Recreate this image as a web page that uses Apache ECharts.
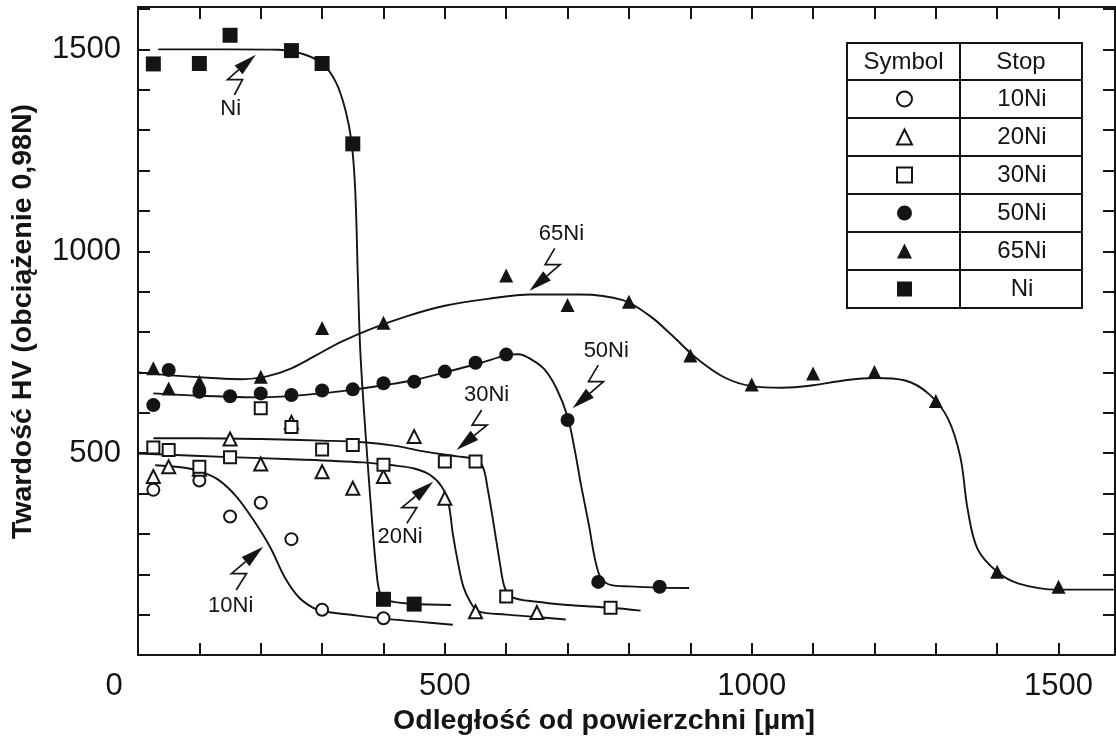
<!DOCTYPE html>
<html>
<head>
<meta charset="utf-8">
<script src="https://cdn.jsdelivr.net/npm/echarts@6/dist/echarts.min.js"></script>
<style>
html,body{margin:0;padding:0;background:#fff;}
#c{width:1116px;height:742px;}
</style>
</head>
<body>
<div id="c"></div>
<script>
// ---------- data ----------
const seriesNames = ['10Ni', '20Ni', '30Ni', '50Ni', '65Ni', 'Ni'];
const xTickLabels = [0, 500, 1000, 1500];
const yTickLabels = [500, 1000, 1500];

// measured points [distance µm, HV]
const pts10Ni = [[25,409],[100,432],[150,343],[200,377],[250,287],[300,112],[400,91]];
const pts20Ni = [[25,442],[50,466],[100,460],[150,535],[200,473],[250,576],[300,454],[350,413],[400,442],[450,541],[500,388],[550,107],[650,105]];
const pts30Ni = [[25,514],[50,508],[100,466],[150,490],[200,611],[250,565],[300,509],[350,520],[400,471],[500,479],[550,479],[600,145],[770,117]];
const pts50Ni = [[25,619],[50,706],[100,652],[150,641],[200,648],[250,644],[300,655],[350,658],[400,673],[450,677],[500,702],[550,724],[600,744],[700,582],[750,181],[850,169]];
const pts65Ni = [[25,710],[50,660],[100,677],[200,689],[300,810],[400,823],[600,940],[700,867],[800,875],[900,742],[1000,670],[1100,697],[1200,701],[1300,629],[1400,206],[1500,169]];
const ptsNi   = [[25,1464],[100,1465],[150,1535],[250,1497],[300,1465],[350,1266],[400,138],[450,126]];

// fitted curves
const curve10Ni = [[28,470],[70,465],[101,455],[130,435],[160,393],[190,330],[215,268],[240,190],[262,143],[284,118],[300,109],[350,99],[400,90],[460,82],[513,75]];
const curve20Ni = [[0,499],[150,490],[250,485],[367,477],[420,469],[450,462],[476,446],[495,417],[506,375],[513,300],[521,232],[530,170],[542,130],[555,108],[600,100],[650,94],[697,88]];
const curve30Ni = [[25,537],[100,537],[200,535],[300,531],[367,527],[420,518],[470,503],[520,492],[550,484],[562,466],[570,410],[580,320],[590,225],[598,165],[610,143],[650,132],[700,124],[770,117],[819,110]];
const curve50Ni = [[25,648],[100,642],[200,638],[300,648],[350,657],[400,668],[450,681],[500,700],[555,722],[600,742],[620,745],[640,733],[662,708],[682,660],[700,590],[712,505],[722,420],[735,320],[745,235],[755,189],[772,173],[800,170],[851,167],[898,166]];
const curve65Ni = [[0,700],[60,692],[120,686],[170,683],[210,690],[250,710],[290,742],[330,775],[380,808],[440,840],[500,865],[570,882],[640,893],[720,893],[790,879],[834,840],[870,792],[910,735],[955,688],[1000,666],[1050,662],[1100,668],[1150,680],[1200,686],[1250,680],[1290,645],[1320,585],[1340,490],[1352,360],[1368,263],[1400,206],[1435,177],[1498,162],[1590,162]];
const curveNi   = [[33,1500],[150,1500],[230,1499],[270,1488],[300,1465],[322,1420],[338,1350],[348,1270],[354,1150],[358,950],[362,760],[368,610],[375,460],[382,320],[388,215],[394,155],[405,136],[446,127],[510,124]];

// annotation labels: text anchor, arrow start, arrow tip (data coordinates)
const annotationLabels = ['Ni', '10Ni', '20Ni', '30Ni', '65Ni', '50Ni'];
const annotationText  = [[151,1352],[151,121],[427,293],[568,644],[690,1043],[763,752]];
const annotationFrom  = [[157,1387],[160,161],[438,326],[560,607],[679,1007],[750,718]];
const annotationTo    = [[192,1487],[204,268],[481,429],[519,508],[638,902],[708,611]];

// ---------- chart ----------
const FONT = "'Liberation Sans', Arial, Helvetica, sans-serif";
const INK = '#141414';

const pointsBy = {'10Ni':pts10Ni,'20Ni':pts20Ni,'30Ni':pts30Ni,'50Ni':pts50Ni,'65Ni':pts65Ni,'Ni':ptsNi};
const curvesBy = {'10Ni':curve10Ni,'20Ni':curve20Ni,'30Ni':curve30Ni,'50Ni':curve50Ni,'65Ni':curve65Ni,'Ni':curveNi};
const symbols = {'10Ni':'emptyCircle','20Ni':'emptyTriangle','30Ni':'emptyRect','50Ni':'circle','65Ni':'triangle','Ni':'rect'};
const sizes = {'10Ni':12,'20Ni':13,'30Ni':12,'50Ni':14,'65Ni':14,'Ni':15};

const chart = echarts.init(document.getElementById('c'), null, {renderer:'canvas'});

const series = [];
seriesNames.forEach(n => series.push({
  name: n + ' krzywa', type: 'line', data: curvesBy[n],
  showSymbol: false, symbol: 'none', smooth: 0.35,
  lineStyle: {color: INK, width: 1.9}, itemStyle: {color: INK},
  silent: true, z: 2, animation: false
}));
seriesNames.forEach(n => series.push({
  name: n, type: 'scatter', data: pointsBy[n],
  symbol: symbols[n], symbolSize: sizes[n],
  itemStyle: {color: INK, borderColor: INK, borderWidth: symbols[n].indexOf('empty') === 0 ? 1.8 : 0, opacity: 1},
  z: 3, animation: false
}));

const axisCommon = {
  type: 'value', interval: 100,
  axisLine: {show: true, onZero: false, lineStyle: {color: INK, width: 2}},
  axisTick: {show: true, inside: true, length: 12, lineStyle: {color: INK, width: 2}},
  splitLine: {show: false}, minorTick: {show: false}
};

chart.setOption({
  backgroundColor: '#fff',
  animation: false,
  grid: {left: 138, top: 7, width: 977, height: 648, containLabel: false, outerBoundsMode: 'none'},
  xAxis: [
    Object.assign({}, axisCommon, {
      min: 0, max: 1592, position: 'bottom',
      axisLabel: {
        fontSize: 31, color: INK, fontFamily: FONT, margin: 16,
        formatter: v => xTickLabels.indexOf(v) >= 0 ? (v === 0 ? '{z|0}' : String(v)) : '',
        rich: {z: {fontSize: 31, fontFamily: FONT, color: INK, padding: [0, 48, 0, 0]}}
      },
      name: 'Odległość od powierzchni [µm]', nameLocation: 'middle', nameGap: 52, nameMoveOverlap: false,
      nameTextStyle: {fontSize: 28.5, fontWeight: 'bold', fontFamily: FONT, color: INK, padding: [0, 45, 0, 0]}
    }),
    Object.assign({}, axisCommon, {min: 0, max: 1592, position: 'top', axisLabel: {show: false}})
  ],
  yAxis: [
    Object.assign({}, axisCommon, {
      min: 0, max: 1605, position: 'left',
      axisLabel: {
        fontSize: 31, color: INK, fontFamily: FONT, margin: 17,
        formatter: v => yTickLabels.indexOf(v) >= 0 ? String(v) : ''
      },
      name: 'Twardość HV (obciążenie 0,98N)', nameLocation: 'middle', nameGap: 100, nameRotate: 90, nameMoveOverlap: false,
      nameTextStyle: {fontSize: 28.5, fontWeight: 'bold', fontFamily: FONT, color: INK, padding: [0, 0, 0, 19]}
    }),
    Object.assign({}, axisCommon, {min: 0, max: 1605, position: 'right', axisLabel: {show: false}})
  ],
  legend: {
    data: seriesNames, orient: 'vertical', left: 891, top: 82,
    itemWidth: 15, itemHeight: 15, itemGap: 14, selectedMode: false,
    formatter: n => '{a|' + n + '}',
    textStyle: {
      fontSize: 24, fontFamily: FONT, color: INK, lineHeight: 24,
      rich: {a: {width: 210, align: 'center', fontSize: 24, lineHeight: 24, fontFamily: FONT, color: INK}}
    }
  },
  series: series
});

// ---------- legend table frame and annotations ----------
function toPx(p) { return chart.convertToPixel({xAxisIndex: 0, yAxisIndex: 0}, p); }

function boltArrow(from, to) {
  const s = toPx(from), t = toPx(to);
  const dx = t[0] - s[0], dy = t[1] - s[1];
  const side = dx < 0 ? 1 : -1;
  const p1 = [s[0] + 0.38 * dx, s[1] + 0.38 * dy];
  const p2 = [p1[0] + side * 15, p1[1]];
  const ux = t[0] - p2[0], uy = t[1] - p2[1];
  const ul = Math.hypot(ux, uy);
  const u = [ux / ul, uy / ul], nrm = [-u[1], u[0]];
  const head = 23, hw = 6;
  const b = [t[0] - u[0] * head, t[1] - u[1] * head];
  return [
    {type: 'polyline', z: 20, silent: true, shape: {points: [s, p1, p2, b]}, style: {stroke: INK, lineWidth: 1.7, fill: null}},
    {type: 'polygon', z: 20, silent: true, shape: {points: [t, [b[0] + nrm[0] * hw, b[1] + nrm[1] * hw], [b[0] - nrm[0] * hw, b[1] - nrm[1] * hw]]}, style: {fill: INK}}
  ];
}

const graphics = [];
// table frame
const tx0 = 847, tx1 = 1082, tcol = 960, ty0 = 43, ty1 = 308;
graphics.push({type: 'rect', z: 20, silent: true, shape: {x: tx0, y: ty0, width: tx1 - tx0, height: ty1 - ty0}, style: {fill: null, stroke: INK, lineWidth: 2}});
graphics.push({type: 'line', z: 20, silent: true, shape: {x1: tcol, y1: ty0, x2: tcol, y2: ty1}, style: {stroke: INK, lineWidth: 2}});
[80, 118, 156, 194, 232, 270].forEach(y => graphics.push({type: 'line', z: 20, silent: true, shape: {x1: tx0, y1: y, x2: tx1, y2: y}, style: {stroke: INK, lineWidth: 2}}));
graphics.push({type: 'text', z: 20, silent: true, style: {text: 'Symbol', x: (tx0 + tcol) / 2, y: 62, font: '24px ' + FONT, fill: INK, align: 'center', verticalAlign: 'middle', textAlign: 'center', textVerticalAlign: 'middle'}});
graphics.push({type: 'text', z: 20, silent: true, style: {text: 'Stop', x: (tcol + tx1) / 2, y: 62, font: '24px ' + FONT, fill: INK, align: 'center', verticalAlign: 'middle', textAlign: 'center', textVerticalAlign: 'middle'}});

annotationLabels.forEach((lab, i) => {
  const p = toPx(annotationText[i]);
  graphics.push({type: 'text', z: 20, silent: true, style: {text: lab, x: p[0], y: p[1], font: '22px ' + FONT, fill: INK, align: 'center', verticalAlign: 'middle', textAlign: 'center', textVerticalAlign: 'middle'}});
  boltArrow(annotationFrom[i], annotationTo[i]).forEach(g => graphics.push(g));
});

chart.setOption({graphic: {elements: graphics}});
</script>
</body>
</html>
